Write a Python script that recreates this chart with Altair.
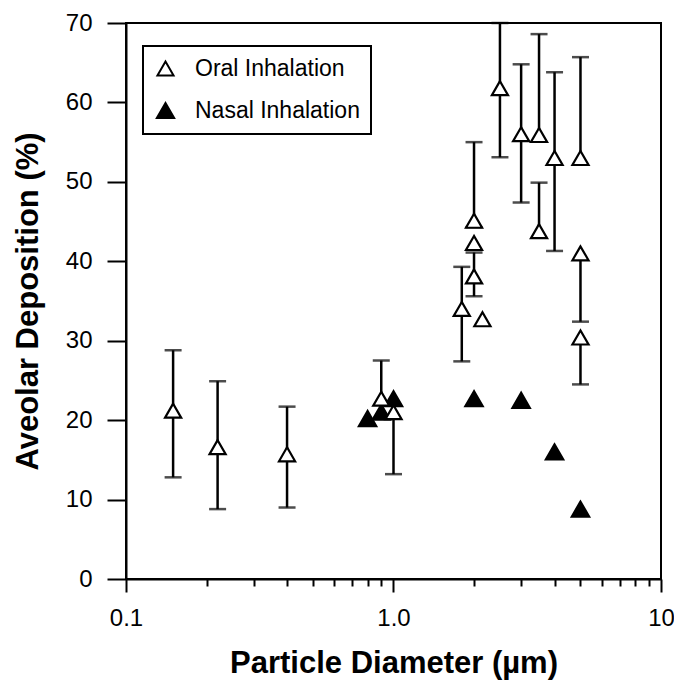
import altair as alt
import pandas as pd

# ---- data ----
oral_x = [0.15, 0.22, 0.4, 0.9, 1.0, 1.8, 2.0, 2.0, 2.0, 2.15, 2.5, 3.0, 3.5, 3.5, 4.0, 5.0, 5.0, 5.0]
oral_y = [21.2, 16.6, 15.7, 22.7, 21.0, 34.0, 45.1, 42.3, 38.1, 32.7, 61.8, 56.0, 55.9, 43.8, 53.0, 53.0, 41.0, 30.4]
oral_lo = [12.8, 8.8, 9.0, None, 13.2, 27.4, 44.3, None, 35.6, None, 53.1, 47.4, None, None, 41.3, None, 32.4, 24.5]
oral_hi = [28.8, 24.9, 21.7, 27.5, None, 39.3, 55.0, None, 41.1, None, 70.0, 64.8, 68.6, 49.9, 63.8, 65.7, None, None]

nasal_x = [0.8, 0.9, 1.0, 2.0, 3.0, 4.0, 5.0]
nasal_y = [20.2, 21.0, 22.7, 22.7, 22.5, 16.0, 8.8]

series_names = ["Oral Inhalation", "Nasal Inhalation"]
x_major_ticks = [0.1, 1, 10]
x_minor_ticks = [0.2, 0.3, 0.4, 0.5, 0.6, 0.7, 0.8, 0.9,
                 2, 3, 4, 5, 6, 7, 8, 9]
y_tick_values = [0, 10, 20, 30, 40, 50, 60, 70]

FONT = "Liberation Sans"

# ---- tables ----
pts = pd.DataFrame(
    {"d": nasal_x + oral_x,
     "dep": nasal_y + oral_y,
     "series": [series_names[1]] * len(nasal_x) + [series_names[0]] * len(oral_x)}
)

bars = pd.DataFrame({
    "d": oral_x,
    "lo": [l if l is not None else y for l, y in zip(oral_lo, oral_y)],
    "hi": [h if h is not None else y for h, y in zip(oral_hi, oral_y)],
})
bars = bars[bars["lo"] != bars["hi"]]

caps = pd.DataFrame({
    "d": [x for x, l in zip(oral_x, oral_lo) if l is not None]
         + [x for x, h in zip(oral_x, oral_hi) if h is not None],
    "v": [l for l in oral_lo if l is not None] + [h for h in oral_hi if h is not None],
})

xscale = alt.Scale(type="log", domain=[0.1, 10], nice=False)
yscale = alt.Scale(domain=[0, 70], nice=False, zero=False)

x_axis = alt.Axis(
    values=x_major_ticks, orient="bottom",
    labelExpr="datum.value == 1 ? '1.0' : datum.value == 10 ? '10' : '0.1'",
    tickSize=13, tickWidth=2, tickColor="black",
    domainWidth=2, domainColor="black",
    labelFontSize=24, labelFont=FONT, labelColor="black",
    labelOverlap=False, labelFlush=False, labelPadding=14,
    title="Particle Diameter (µm)", titleFontSize=31, titleFont=FONT,
    titleFontWeight="bold", titleColor="black", titlePadding=18,
    grid=False,
)

x_minor_axis = alt.Axis(
    values=x_minor_ticks, orient="bottom",
    tickSize=7, tickWidth=2, tickColor="black",
    labels=False, domain=False, title=None, grid=False,
)

y_axis = alt.Axis(
    values=y_tick_values,
    tickSize=19, tickWidth=2, tickColor="black",
    domainWidth=2, domainColor="black",
    labelFontSize=24, labelFont=FONT, labelColor="black", labelPadding=15,
    title="Aveolar Deposition (%)", titleFontSize=31, titleFont=FONT,
    titleFontWeight="bold", titleColor="black", titlePadding=21,
    grid=False,
)

rules = alt.Chart(bars).mark_rule(color="black", strokeWidth=2.5).encode(
    x=alt.X("d:Q", scale=xscale, axis=x_minor_axis),
    y=alt.Y("lo:Q", scale=yscale, axis=y_axis),
    y2="hi:Q",
)

cap_marks = alt.Chart(caps).mark_tick(
    color="black", orient="horizontal", size=17, thickness=2.5
).encode(
    x=alt.X("d:Q", scale=xscale, axis=x_minor_axis),
    y=alt.Y("v:Q", scale=yscale, axis=y_axis),
)

legend = alt.Legend(
    title=None, orient="none", legendX=17, legendY=23,
    strokeColor="black", padding=11, rowPadding=18,
    labelFontSize=23, labelFont=FONT, labelColor="black", labelOffset=18,
    labelLimit=320,
    symbolStrokeColor="black", symbolStrokeWidth=2,
    labelExpr="datum.label + '\u00a0\u00a0\u00a0'",
)

points = alt.Chart(pts).mark_point(
    filled=False, strokeWidth=2.2, opacity=1
).encode(
    x=alt.X("d:Q", scale=xscale, axis=x_axis),
    y=alt.Y("dep:Q", scale=yscale, axis=y_axis),
    shape=alt.Shape("series:N", scale=alt.Scale(domain=series_names, range=["triangle-up", "triangle-up"]), legend=legend),
    fill=alt.Fill("series:N", scale=alt.Scale(domain=series_names, range=["white", "black"]), legend=legend),
    stroke=alt.Stroke("series:N", scale=alt.Scale(domain=series_names, range=["black", "black"]), legend=legend),
    size=alt.Size("series:N", scale=alt.Scale(domain=series_names, range=[260, 300]), legend=legend),
)

errs = alt.layer(rules, cap_marks)

chart = alt.layer(errs, points).resolve_axis(x="independent").properties(
    width=535, height=556,
    autosize=alt.AutoSizeParams(type="none"),
    padding={"left": 126, "top": 23, "right": 13, "bottom": 104},
    background="white",
).configure_view(
    stroke="black", strokeWidth=2
).configure_legend(
    strokeWidth=2
).configure_axisY(
    tickSize=19
)

chart.save("out.html", embed_options={"renderer": "svg", "actions": False})
